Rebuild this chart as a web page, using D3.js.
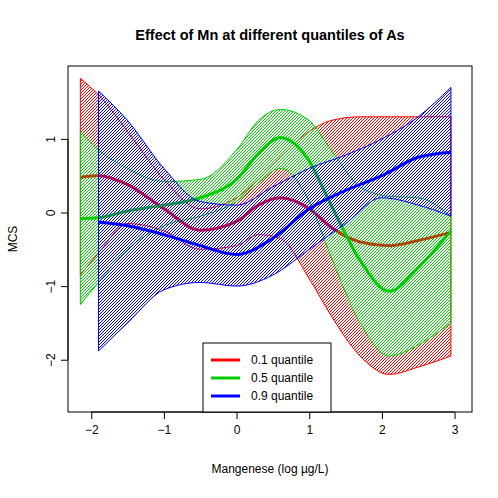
<!DOCTYPE html>
<html><head><meta charset="utf-8">
<script src="https://cdn.jsdelivr.net/npm/d3@7"></script>
<style>body{margin:0;background:#fff}text{font-family:"Liberation Sans",Arial,sans-serif}</style>
</head><body><svg id="chart" width="498" height="498"></svg>
<script>
// x positions (log Mn) and estimated curve values
const xRG = [-2.15, -1.9, -1.5, -1.0, -0.5, 0, 0.3, 0.6, 1.0, 1.3, 1.7, 2.1, 2.5, 2.95];
const redMean = [0.48, 0.5, 0.38, 0.05, -0.24, -0.12, 0.1, 0.2, 0.05, -0.2, -0.4, -0.45, -0.38, -0.27];
const redHi = [1.82, 1.6, 1.1, 0.45, 0.05, 0.2, 0.45, 0.75, 1.1, 1.25, 1.3, 1.3, 1.3, 1.3];
const redLo = [-0.85, -0.55, -0.15, -0.25, -0.5, -0.45, -0.3, -0.35, -0.9, -1.4, -1.95, -2.2, -2.1, -1.95];
const greenMean = [-0.08, -0.07, 0.02, 0.1, 0.2, 0.45, 0.8, 1.02, 0.7, 0.1, -0.65, -1.07, -0.75, -0.25];
const greenHi = [1.1, 0.85, 0.6, 0.42, 0.45, 0.85, 1.25, 1.4, 1.25, 0.85, 0.35, 0.22, 0.2, -0.05];
const greenLo = [-1.25, -0.95, -0.5, -0.18, -0.05, 0.15, 0.4, 0.6, 0.15, -0.6, -1.5, -1.95, -1.8, -1.5];
const xB = [-1.9, -1.5, -1.0, -0.5, 0, 0.5, 1.0, 1.5, 2.0, 2.5, 2.95];
const blueMean = [-0.13, -0.18, -0.3, -0.45, -0.57, -0.35, 0.05, 0.3, 0.5, 0.75, 0.82];
const blueHi = [1.65, 1.25, 0.6, 0.15, 0.1, 0.35, 0.6, 0.78, 1.0, 1.3, 1.7];
const blueLo = [-1.88, -1.5, -1.05, -0.95, -1.0, -0.85, -0.5, -0.15, 0.2, 0.1, -0.05];
const xTicks = [-2, -1, 0, 1, 2, 3];
const yTicks = [-2, -1, 0, 1];
const labels = ["0.1 quantile", "0.5 quantile", "0.9 quantile"];
const colors = ["#ff0000", "#00cd00", "#0000ff"];

const svg = d3.select("#chart");
const margin = { top: 66, right: 26, bottom: 86, left: 68 };
const width = 498 - margin.left - margin.right;
const height = 498 - margin.top - margin.bottom;

const x = d3.scaleLinear().domain([-2.32, 3.24]).range([margin.left, margin.left + width]);
const y = d3.scaleLinear().domain([-2.71, 1.99]).range([margin.top + height, margin.top]);

// hatch patterns (dense, 45 degrees)
const defs = svg.append("defs");
colors.forEach((c, i) => {
  const p = defs.append("pattern").attr("id", "h" + i).attr("patternUnits", "userSpaceOnUse")
    .attr("width", 3).attr("height", 3);
  p.append("path").attr("d", "M-1,1 l2,-2 M0,3 l3,-3 M2,4 l2,-2")
    .attr("stroke", c).attr("stroke-width", 1);
});

const clip = defs.append("clipPath").attr("id", "clip");
clip.append("rect").attr("x", margin.left).attr("y", margin.top).attr("width", width).attr("height", height);
const g = svg.append("g").attr("clip-path", "url(#clip)");

const series = [
  { xs: xRG, m: redMean, hi: redHi, lo: redLo },
  { xs: xRG, m: greenMean, hi: greenHi, lo: greenLo },
  { xs: xB, m: blueMean, hi: blueHi, lo: blueLo }
];
series.forEach((s, i) => {
  const line = d3.line().x(d => x(d[0])).y(d => y(d[1])).curve(d3.curveMonotoneX);
  const area = d3.area().x(d => x(d[0])).y0(d => y(d[1])).y1(d => y(d[2])).curve(d3.curveMonotoneX);
  g.append("path").datum(s.xs.map((v, j) => [v, s.lo[j], s.hi[j]]))
    .attr("d", area).attr("fill", `url(#h${i})`).attr("stroke", colors[i]).attr("stroke-width", 1);
  g.append("path").datum(s.xs.map((v, j) => [v, s.m[j]])).attr("d", line).attr("fill", "none")
    .attr("stroke", colors[i]).attr("stroke-width", 3);
});

// frame
svg.append("rect").attr("x", margin.left).attr("y", margin.top).attr("width", width).attr("height", height)
  .attr("fill", "none").attr("stroke", "#000");

// axes
const fmt = d => d < 0 ? "\u2212" + Math.abs(d) : d;
const xa = svg.append("g").attr("transform", `translate(0,${margin.top + height})`)
  .call(d3.axisBottom(x).tickValues(xTicks).tickSize(7).tickPadding(6).tickFormat(fmt));
const ya = svg.append("g").attr("transform", `translate(${margin.left},0)`)
  .call(d3.axisLeft(y).tickValues(yTicks).tickSize(7).tickFormat(fmt));
[xa, ya].forEach(a => {
  a.select(".domain").remove();
  a.selectAll("text").attr("font-size", 12).attr("fill", "#000").style("font-family", "Liberation Sans, Arial, sans-serif");
});
xa.append("line").attr("x1", x(-2)).attr("x2", x(3)).attr("stroke", "#000");
ya.append("line").attr("y1", y(-2)).attr("y2", y(1)).attr("stroke", "#000");
ya.selectAll(".tick text").attr("transform", "rotate(-90)").attr("x", 0).attr("y", -13)
  .attr("text-anchor", "middle").attr("dy", 0);

// titles
svg.append("text").attr("x", margin.left + width / 2).attr("y", 40).attr("text-anchor", "middle")
  .attr("font-size", 14.5).attr("font-weight", "bold").text("Effect of Mn at different quantiles of As");
svg.append("text").attr("x", margin.left + width / 2).attr("y", 473).attr("text-anchor", "middle")
  .attr("font-size", 12).text("Mangenese (log µg/L)");
svg.append("text").attr("transform", `translate(17,${margin.top + height / 2}) rotate(-90)`)
  .attr("text-anchor", "middle").attr("font-size", 12).text("MCS");

// legend
const lg = svg.append("g");
lg.append("rect").attr("x", 203).attr("y", 343).attr("width", 128).attr("height", 69)
  .attr("fill", "#fff").attr("stroke", "#000");
labels.forEach((l, i) => {
  const yy = 360 + i * 18;
  lg.append("line").attr("x1", 211).attr("x2", 240).attr("y1", yy).attr("y2", yy)
    .attr("stroke", colors[i]).attr("stroke-width", 3);
  lg.append("text").attr("x", 251).attr("y", yy + 4).attr("font-size", 12).text(l);
});
</script></body></html>
